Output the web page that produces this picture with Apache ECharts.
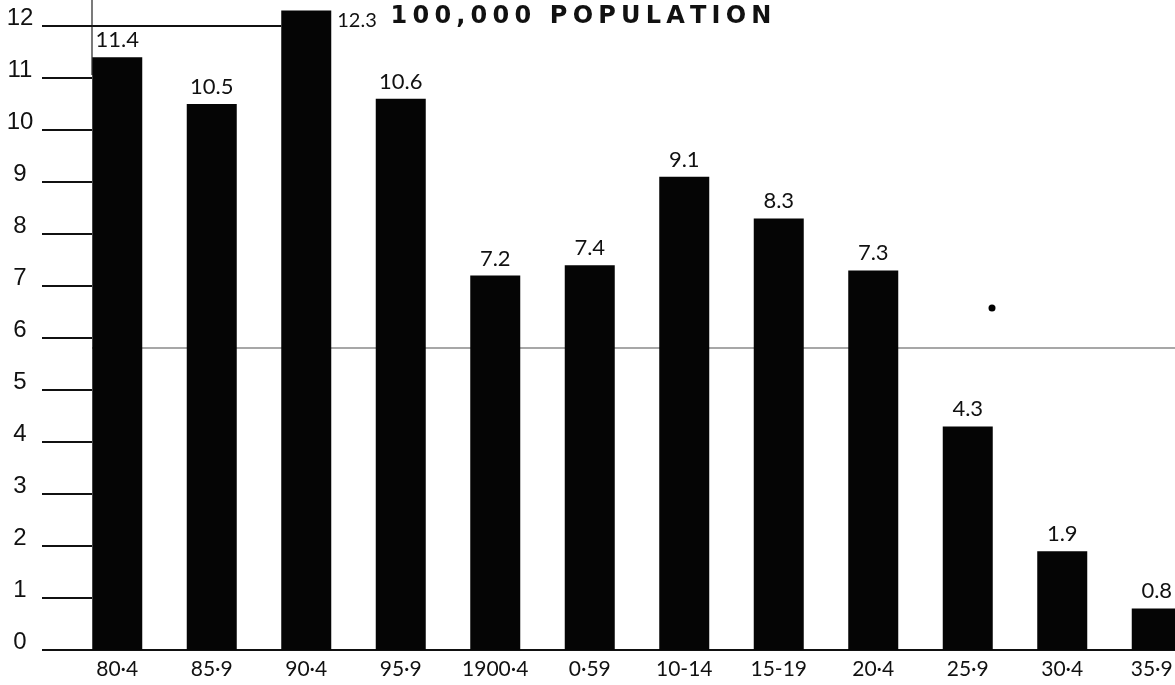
<!DOCTYPE html>
<html>
<head>
<meta charset="utf-8">
<script src="https://cdn.jsdelivr.net/npm/echarts@6/dist/echarts.min.js"></script>
<style>
html,body{margin:0;padding:0;background:#fff;}
#chart{width:1175px;height:685px;}
</style>
</head>
<body>
<div id="chart"></div>
<script>
const categories = ['80·4','85·9','90·4','95·9','1900·4','0·59','10-14','15-19','20·4','25·9','30·4','35·9'];
const values = [11.4, 10.5, 12.3, 10.6, 7.2, 7.4, 9.1, 8.3, 7.3, 4.3, 1.9, 0.8];
const valueLabels = ['11.4','10.5','12.3','10.6','7.2','7.4','9.1','8.3','7.3','4.3','1.9','0.8'];
const yTickValues = [0,1,2,3,4,5,6,7,8,9,10,11,12];
const titleText = '100,000 POPULATION';

const chart = echarts.init(document.getElementById('chart'), null, {renderer:'canvas'});

const seriesData = values.map((v, i) => {
  const item = { value: v };
  if (i === 2) {
    item.label = { position: [56, 0], align: 'left', verticalAlign: 'top', fontSize: 20 };
  }
  return item;
});

const categoryData = categories.map((c, i) =>
  i === categories.length - 1 ? { value: c, textStyle: { padding: [0, 10, 0, 0] } } : c
);

const spacedTitle = titleText.split('').map(ch => '{c|' + ch + '}').join('');

chart.setOption({
  animation: false,
  backgroundColor: '#ffffff',
  title: {
    text: spacedTitle,
    left: 383, top: 0,
    textStyle: {
      rich: { c: { fontFamily: 'DejaVu Sans', fontWeight: 'bold', fontSize: 24, color: '#111', padding: [0, 2.6, 0, 2.6] } }
    }
  },
  grid: { left: 70, top: 26, right: -29, bottom: 35, containLabel: false, outerBoundsMode: 'none' },
  xAxis: {
    type: 'category',
    data: categoryData,
    boundaryGap: true,
    axisLine: { show: true, lineStyle: { color: '#111', width: 2 } },
    axisTick: { show: false },
    axisLabel: { color: '#111', fontFamily: 'Lato', fontSize: 21, margin: 9, interval: 0 }
  },
  yAxis: {
    type: 'value',
    min: 0, max: 12, interval: 1,
    offset: -22,
    axisLine: { show: false },
    splitLine: { show: false },
    axisTick: { show: true, length: 50, customValues: yTickValues, lineStyle: { color: '#111', width: 2 } },
    axisLabel: {
      customValues: yTickValues,
      color: '#111', fontFamily: 'Liberation Sans', fontSize: 24,
      align: 'center', margin: 72, verticalAlign: 'bottom', lineHeight: 16
    }
  },
  series: [{
    type: 'bar',
    data: seriesData,
    barWidth: 50,
    clip: false,
    itemStyle: { color: '#050505' },
    label: {
      show: true,
      position: 'top',
      distance: 6,
      color: '#111',
      fontFamily: 'Lato',
      fontSize: 22,
      formatter: p => valueLabels[p.dataIndex]
    }
  }]
});

const y12 = chart.convertToPixel({yAxisIndex: 0}, 12);
const bar3Left = chart.convertToPixel({xAxisIndex: 0}, categories[2]) - 25;
chart.setOption({
  graphic: [
    { type: 'line', z: 0, shape: { x1: 45, y1: y12, x2: bar3Left, y2: y12 }, style: { stroke: '#111', lineWidth: 2 } },
    { type: 'line', z: 0, shape: { x1: 92, y1: 0, x2: 92, y2: 75 }, style: { stroke: '#222', lineWidth: 1.2 } },
    { type: 'line', z: 0, shape: { x1: 92, y1: 348, x2: 1175, y2: 348 }, style: { stroke: '#8a8a8a', lineWidth: 1.3 } },
    { type: 'circle', z: 0, shape: { cx: 992, cy: 308, r: 3.5 }, style: { fill: '#000' } }
  ]
});
</script>
</body>
</html>
